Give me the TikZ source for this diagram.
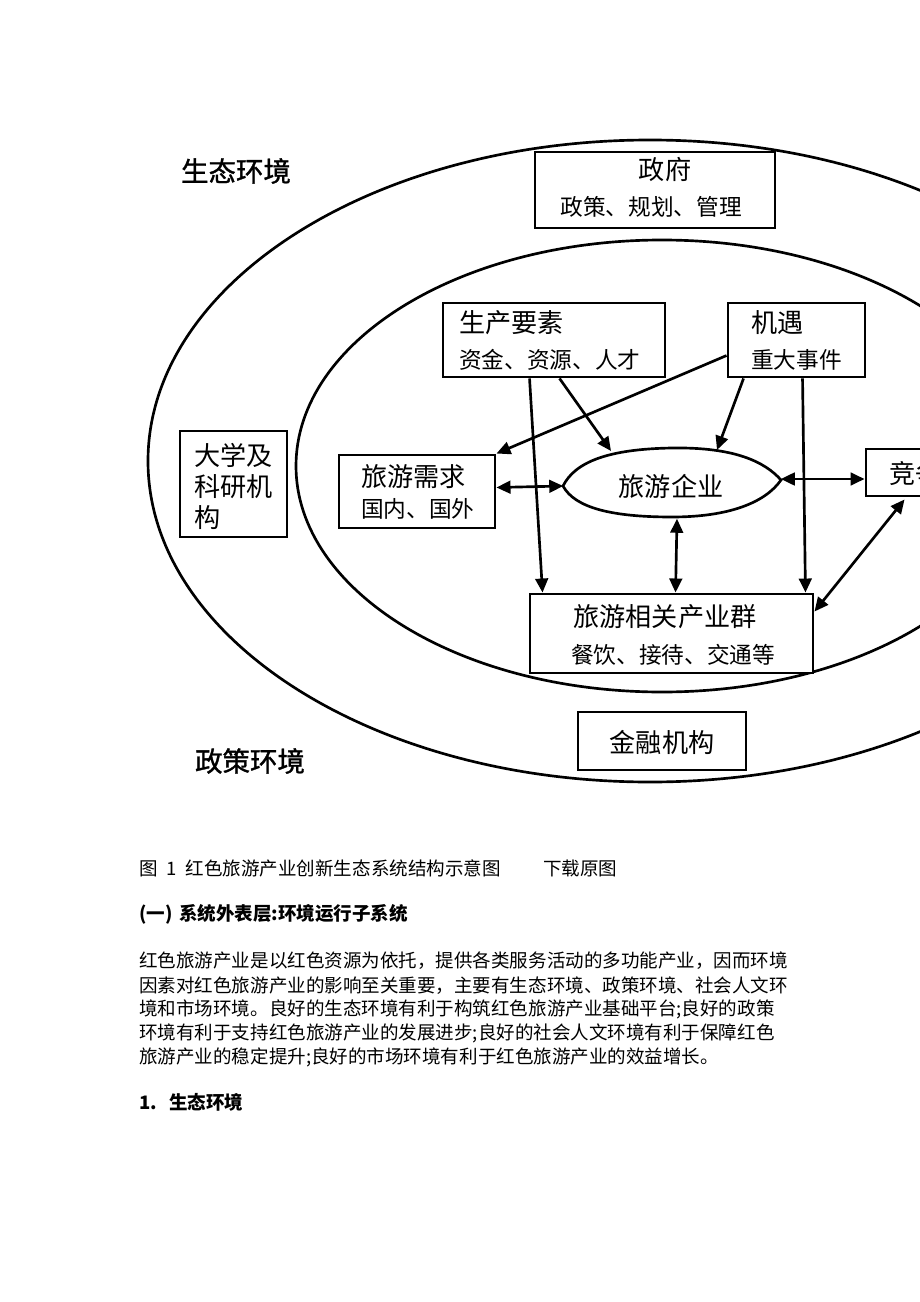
\documentclass[tikz,border=0pt]{standalone}
\usepackage{fontspec}
\setmainfont{Noto Sans CJK SC}
\newfontfamily\heavyfont{Noto Sans CJK SC}[FakeBold=1.2]
\usetikzlibrary{arrows.meta,shapes.geometric,fit,calc}
\tikzset{
  box/.style={draw, fill=white, line width=2.2pt, inner sep=0pt},
  lbl/.style={inner sep=0pt, font=\fontsize{19.6pt}{22pt}\selectfont},
  sub/.style={inner sep=0pt, font=\fontsize{17pt}{20pt}\selectfont},
  big/.style={inner sep=0pt, font=\heavyfont\fontsize{20.6pt}{24pt}\selectfont},
  body/.style={inner sep=0pt, anchor=west, font=\fontsize{13.9pt}{18pt}\selectfont},
  bodyb/.style={inner sep=0pt, anchor=west, font=\fontsize{13.9pt}{18pt}\selectfont\bfseries},
  ring/.style={line width=2pt},
  tip/.tip={Triangle[length=10.5pt,width=9.5pt]},
  arr/.style={line width=2pt, -tip},
  darr/.style={line width=2pt, tip-tip},
}
\begin{document}
\begin{tikzpicture}[x=0.75pt,y=-0.75pt]
\useasboundingbox (0,0) rectangle (920,1302);
\fill[white] (0,0) rectangle (920,1302);
\begin{scope}
\clip (0,0) rectangle (920,1302);
% rings
\draw[ring] (650,461) ellipse [x radius=502, y radius=321];
\draw[ring] (662,466) ellipse [x radius=366, y radius=226];

% boxes
\node[box, fit={(535,152) (775,228)}] (zf) {};
\node[lbl] (zfT) at (665,170) {政府};
\node[sub] (zfS) at (651,207) {政策、规划、管理};

\node[box, fit={(443,303) (665,377)}] (sc) {};
\node[lbl, anchor=west] (scT) at (459,323) {生产要素};
\node[sub, anchor=west] (scS) at (459,360) {资金、资源、人才};

\node[box, fit={(728,303) (865,377)}] (jy) {};
\node[lbl, anchor=west] (jyT) at (751,323) {机遇};
\node[sub, anchor=west] (jyS) at (751,360) {重大事件};

\node[box, fit={(180,431) (287,537)}] (dx) {};
\node[lbl, anchor=west] (dx1) at (194,455) {大学及};
\node[lbl, anchor=west] (dx2) at (194,487) {科研机};
\node[lbl, anchor=west] (dx3) at (194,518) {构};

\node[box, fit={(339,455) (495,528)}] (xq) {};
\node[lbl, anchor=west] (xqT) at (361,477) {旅游需求};
\node[sub, anchor=west] (xqS) at (361,509) {国内、国外};

% tourism enterprise: lemon-shaped outline around an invisible ellipse node
\node[ellipse, inner sep=0pt, minimum width=162.75pt, minimum height=51.75pt] (qy) at (672,483) {};
\draw[fill=white, line width=2pt]
  (563,486) .. controls (575,462) and (608,449) .. (672,448)
            .. controls (735,447) and (765,462) .. (781,480)
            .. controls (765,503) and (728,517) .. (672,517)
            .. controls (612,517) and (575,508) .. (563,486) -- cycle;
\node[lbl] (qyT) at (671,486) {旅游企业};

\node[box, fit={(866,449) (980,496)}] (jz) {};
\node[lbl, anchor=west] (jzT) at (889,473) {竞争};

\node[box, fit={(530,594) (813,673)}] (cy) {};
\node[lbl] (cyT) at (665,617) {旅游相关产业群};
\node[sub] (cyS) at (673,655) {餐饮、接待、交通等};

\node[box, fit={(578,712) (746,770)}] (jr) {};
\node[lbl] (jrT) at (662,742) {金融机构};

\node[big] (st) at (236,171) {生态环境};
\node[big] (zc) at (250,761) {政策环境};

% connectors
\draw[arr] ($(jy.north west)+(0,54)$) -- (xq.north east);
\draw[arr] ($(sc.south west)+(118,0)$) -- ($(qy.center)+(-61,-32)$);
\draw[arr] ($(sc.south west)+(88,0)$) -- ($(cy.north west)+(14,0)$);
\draw[arr] ($(jy.south west)+(17,0)$) -- ($(qy.center)+(45,-33)$);
\draw[arr] ($(jy.south west)+(76,0)$) -- ($(cy.north east)+(-9,0)$);
\draw[darr] ($(xq.east)+(0,-4)$) -- ($(qy.west)+(0,3)$);
\draw[darr] ($(qy.east)+(0,-4)$) -- ($(jz.west)+(0,6.5)$);
\draw[darr] ($(qy.south)+(5,1)$) -- ($(cy.north west)+(147,0)$);
\draw[darr] ($(jz.south west)+(40,2)$) -- ($(cy.north east)+(0,19)$);

% text below
\node[body] (cap) at (139,868) {图\hspace{0.45em}1\hspace{0.5em}红色旅游产业创新生态系统结构示意图};
\node[body] (dl) at (543,868) {下载原图};
\node[bodyb] (h1) at (139,914) {(一)\hspace{0.35em}系统外表层:环境运行子系统};
\node[body] (p1) at (139,961) {红色旅游产业是以红色资源为依托，提供各类服务活动的多功能产业，因而环境};
\node[body] (p2) at (139,986) {因素对红色旅游产业的影响至关重要，主要有生态环境、政策环境、社会人文环};
\node[body] (p3) at (139,1009) {境和市场环境。良好的生态环境有利于构筑红色旅游产业基础平台;良好的政策};
\node[body] (p4) at (139,1033) {环境有利于支持红色旅游产业的发展进步;良好的社会人文环境有利于保障红色};
\node[body] (p5) at (139,1057) {旅游产业的稳定提升;良好的市场环境有利于红色旅游产业的效益增长。};
\node[bodyb] (h2) at (139,1102) {1.\hspace{0.65em}生态环境};
\end{scope}
\end{tikzpicture}
\end{document}
